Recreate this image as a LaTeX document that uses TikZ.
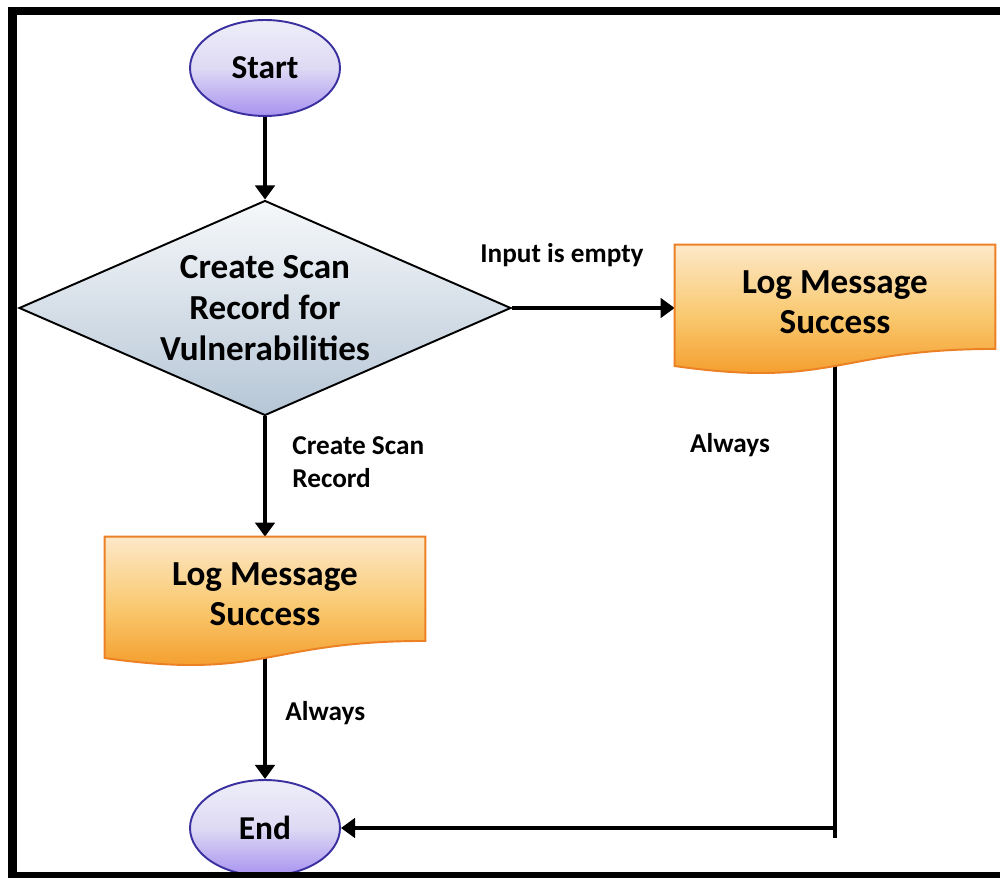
\documentclass[tikz,border=0pt]{standalone}
\usepackage{fontspec}
\setmainfont{Carlito}
\usetikzlibrary{shapes.geometric,arrows.meta,calc}

% connectors lie under the document-shape fills, which lie under the text
\pgfdeclarelayer{wires}
\pgfdeclarelayer{fills}
\pgfsetlayers{wires,fills,main}

\definecolor{ovalTop}{RGB}{238,238,248}
\definecolor{ovalMid}{RGB}{222,218,244}
\definecolor{ovalBot}{RGB}{168,146,240}
\definecolor{ovalLine}{RGB}{58,48,160}
\definecolor{decTop}{RGB}{246,248,250}
\definecolor{decBot}{RGB}{182,198,214}
\definecolor{docTop}{RGB}{253,232,200}
\definecolor{docMid}{RGB}{249,200,110}
\definecolor{docBot}{RGB}{243,148,30}
\definecolor{docLine}{RGB}{236,128,36}

% wavy "document" outline drawn round a text node of the doctext style
\newcommand\docoutline[1]{%
  \begin{pgfonlayer}{fills}
    \path[docshape] (#1.north west) -- (#1.north east)
      -- ($(#1.north east)+(0,104.3)$)
      .. controls ($(#1.north)+(0,104.3)$) and ($(#1.north)+(0,144)$)
      .. ($(#1.north west)+(0,121.4)$) -- cycle;
  \end{pgfonlayer}}

\begin{document}
\begin{tikzpicture}[x=0.02cm, y=-0.02cm,
  terminal/.style={ellipse, draw=ovalLine, line width=1.1pt,
    top color=ovalTop, bottom color=ovalBot, middle color=ovalMid,
    minimum width=3cm, minimum height=1.92cm, inner sep=0pt,
    font=\fontsize{19}{22}\selectfont\bfseries},
  decision/.style={diamond, aspect=2.29, draw=black, line width=1.1pt,
    top color=decTop, bottom color=decBot,
    minimum width=9.84cm, minimum height=4.3cm, inner sep=0pt, align=center,
    font=\fontsize{20}{23.2}\selectfont\bfseries},
  doctext/.style={rectangle, minimum width=6.4cm, minimum height=2.3cm,
    inner sep=0pt, align=center, font=\fontsize{20}{22.7}\selectfont\bfseries},
  docshape/.style={draw=docLine, line width=1.1pt,
    top color=docTop, bottom color=docBot, middle color=docMid},
  flow/.style={line width=2.8pt, draw=black},
  arrowhead/.style={-{Triangle[width=11pt,length=8pt]}},
  lbl/.style={font=\fontsize{15.5}{18.7}\selectfont\bfseries, inner sep=0pt, align=left},
]
\useasboundingbox (0,0) rectangle (1000,878);

% shapes
\node[terminal] (start) at (265,68) {Start};
\node[decision] (scan) at (265,308) {Create Scan\\Record for\\Vulnerabilities};
\node[doctext] (logR) at (835,302.5) {Log Message\\Success};
\node[doctext] (logL) at (265,594.5) {Log Message\\Success};
\node[terminal] (end) at (265,828) {End};
\docoutline{logR}
\docoutline{logL}

% edge labels
\node[lbl] (lblEmpty) at (562,255) {Input is empty};
\node[lbl, anchor=west] (lblScan) at (292,462) {Create Scan\\Record};
\node[lbl] (lblAlwaysR) at (730,445) {Always};
\node[lbl, anchor=west] (lblAlwaysL) at (285,713) {Always};

% connectors
\begin{pgfonlayer}{wires}
  \draw[flow, arrowhead] (start) -- (scan);
  \draw[flow, arrowhead] (scan.east) -- (scan.east -| logR.west);
  \draw[flow, arrowhead] (scan.south) -- (logL.north);
  \draw[flow, arrowhead] (logL) -- (end);
  \draw[flow] (logR) -- ($(logR |- end)+(0,10)$);
  \draw[flow, arrowhead] (logR |- end) -- (end);
\end{pgfonlayer}

% frame
\fill (8,7) rectangle (1000,15);
\fill (8,7) rectangle (17,878);
\fill (8,872) rectangle (1000,878);
\end{tikzpicture}
\end{document}
